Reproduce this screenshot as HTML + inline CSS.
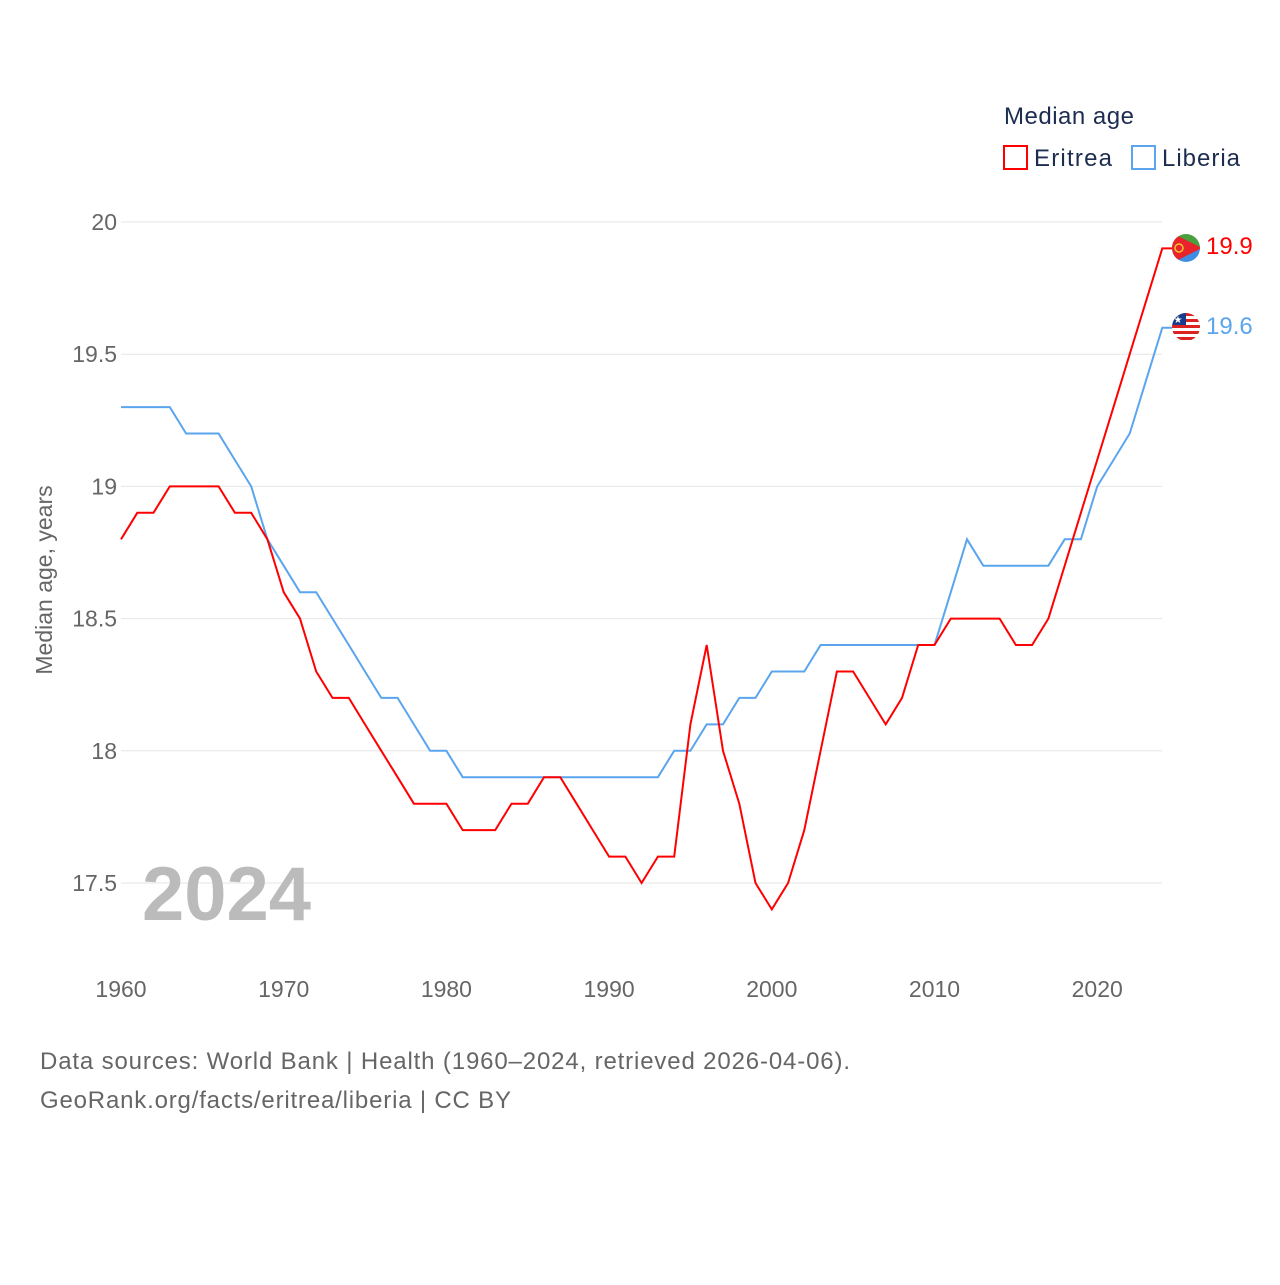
<!DOCTYPE html>
<html><head><meta charset="utf-8"><style>
body{margin:0;background:#fff;font-family:"Liberation Sans",sans-serif;}
svg text{font-family:"Liberation Sans",sans-serif;}
</style></head><body>
<svg width="1280" height="1280" viewBox="0 0 1280 1280">
<g id="grid"></g>
<g id="yticks"></g>
<g id="xticks"></g>
<text x="52" y="580" transform="rotate(-90 52 580)" text-anchor="middle" font-size="23" fill="#666">Median age, years</text>
<text x="142" y="920" font-size="76" font-weight="bold" fill="#bbb">2024</text>
<g id="series"></g>
<g>
<text x="1004" y="124" font-size="24" fill="#1d2d50" textLength="130">Median age</text>
<g><rect x="1004" y="146" width="23" height="23" fill="none" stroke="#f00" stroke-width="2"/><text x="1034" y="166" font-size="24" fill="#1d2d50" textLength="78">Eritrea</text></g>
<g><rect x="1132" y="146" width="23" height="23" fill="none" stroke="#5aa5ee" stroke-width="2"/><text x="1162" y="166" font-size="24" fill="#1d2d50" textLength="78">Liberia</text></g>
</g>
<g>
<clipPath id="c1"><circle cx="1186" cy="248" r="14"/></clipPath>
<g clip-path="url(#c1)"><rect x="1170" y="232" width="32" height="16" fill="#4aa03f"/><rect x="1170" y="248" width="32" height="16" fill="#3f8ee6"/><polygon points="1170,232 1202,248 1170,264" fill="#e8232b"/><circle cx="1179" cy="248" r="4" fill="none" stroke="#f4c430" stroke-width="1.5"/></g>
</g>
<g>
<clipPath id="c2"><circle cx="1186" cy="327" r="14"/></clipPath>
<g clip-path="url(#c2)"><rect x="1170" y="311" width="32" height="32" fill="#fff"/>
<rect x="1170" y="313" width="32" height="3" fill="#d22"/><rect x="1170" y="319" width="32" height="3" fill="#d22"/><rect x="1170" y="325" width="32" height="3" fill="#d22"/><rect x="1170" y="331" width="32" height="3" fill="#d22"/><rect x="1170" y="337" width="32" height="3" fill="#d22"/>
<rect x="1170" y="311" width="16" height="14" fill="#1a3c8c"/><text x="1178" y="323" font-size="10" fill="#fff" text-anchor="middle">★</text></g>
</g>
<text x="1206" y="254" font-size="24" fill="#f00">19.9</text>
<text x="1206" y="334" font-size="24" fill="#5aa5ee">19.6</text>
<text x="40" y="1069" font-size="24" fill="#666" textLength="810">Data sources: World Bank | Health (1960–2024, retrieved 2026-04-06).</text>
<text x="40" y="1108" font-size="24" fill="#666" textLength="471">GeoRank.org/facts/eritrea/liberia | CC BY</text>
</svg>
<script>
const startYear = 1960;
const eritrea = [18.8,18.9,18.9,19.0,19.0,19.0,19.0,18.9,18.9,18.8,18.6,18.5,18.3,18.2,18.2,18.1,18.0,17.9,17.8,17.8,17.8,17.7,17.7,17.7,17.8,17.8,17.9,17.9,17.8,17.7,17.6,17.6,17.5,17.6,17.6,18.1,18.4,18.0,17.8,17.5,17.4,17.5,17.7,18.0,18.3,18.3,18.2,18.1,18.2,18.4,18.4,18.5,18.5,18.5,18.5,18.4,18.4,18.5,18.7,18.9,19.1,19.3,19.5,19.7,19.9];
const liberia = [19.3,19.3,19.3,19.3,19.2,19.2,19.2,19.1,19.0,18.8,18.7,18.6,18.6,18.5,18.4,18.3,18.2,18.2,18.1,18.0,18.0,17.9,17.9,17.9,17.9,17.9,17.9,17.9,17.9,17.9,17.9,17.9,17.9,17.9,18.0,18.0,18.1,18.1,18.2,18.2,18.3,18.3,18.3,18.4,18.4,18.4,18.4,18.4,18.4,18.4,18.4,18.6,18.8,18.7,18.7,18.7,18.7,18.7,18.8,18.8,19.0,19.1,19.2,19.4,19.6];
const yTicks = [17.5,18,18.5,19,19.5,20];
const yTickLabels = ["17.5","18","18.5","19","19.5","20"];
const xTicks = [1960,1970,1980,1990,2000,2010,2020];
const NS="http://www.w3.org/2000/svg";
const x = yr => 121 + (yr-1960)*16.27;
const y = v => 222 + (20-v)*264.4;
const grid=document.getElementById('grid'), yt=document.getElementById('yticks'), xt=document.getElementById('xticks'), ser=document.getElementById('series');
yTicks.forEach((v,i)=>{
  const l=document.createElementNS(NS,'line');
  
  
  l.setAttribute('x1',121);l.setAttribute('x2',1162);l.setAttribute('y1',y(v));l.setAttribute('y2',y(v));
  l.setAttribute('stroke','#e6e6e6');grid.appendChild(l);
  const t=document.createElementNS(NS,'text');
  
  
  t.setAttribute('x',117);t.setAttribute('y',y(v)+8);t.setAttribute('text-anchor','end');
  t.setAttribute('font-size','23');t.setAttribute('fill','#666');t.textContent=yTickLabels[i];yt.appendChild(t);
});
xTicks.forEach(v=>{
  const t=document.createElementNS(NS,'text');
  
  
  t.setAttribute('x',x(v));t.setAttribute('y',997);t.setAttribute('text-anchor','middle');
  t.setAttribute('font-size','23');t.setAttribute('fill','#666');t.textContent=v;xt.appendChild(t);
});
function line(data,color,name){
  const p=document.createElementNS(NS,'path');
  
  
  let d=data.map((v,i)=>(i?'L':'M')+x(startYear+i).toFixed(1)+','+y(v).toFixed(1)).join(' ');
  d+=' L1172,'+y(data[data.length-1]).toFixed(1);
  p.setAttribute('d',d);p.setAttribute('fill','none');p.setAttribute('stroke',color);p.setAttribute('stroke-width','2');
  ser.appendChild(p);
}
line(liberia,'#5aa5ee','line-liberia');
line(eritrea,'#f00','line-eritrea');
</script>
</body></html>
